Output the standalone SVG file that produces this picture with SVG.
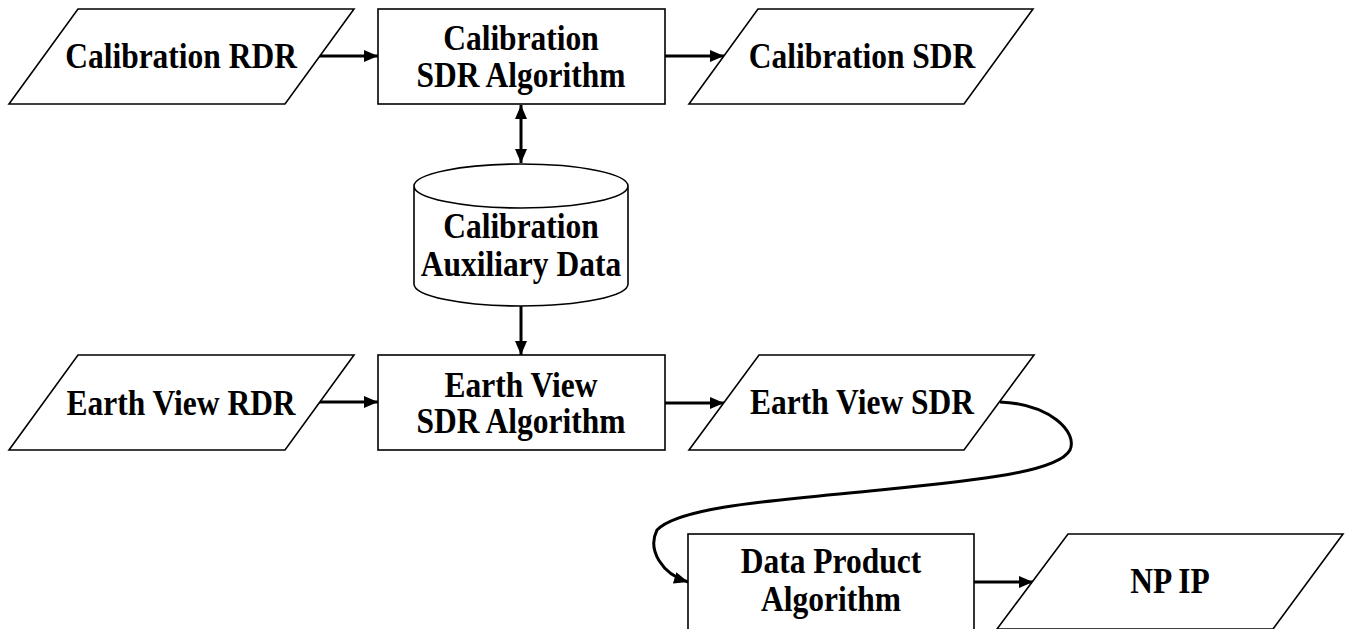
<svg xmlns="http://www.w3.org/2000/svg" width="1346" height="629" viewBox="0 0 1346 629">
<style>
.shape{fill:#fff;stroke:#000;stroke-width:1.6}
.lbl{font-family:"Liberation Serif","Times New Roman",serif;font-weight:bold;font-size:35px;fill:#000;text-anchor:middle;transform-box:fill-box;transform-origin:center;transform:scaleX(0.9)}
.conn{fill:none;stroke:#000;stroke-width:3}
</style>
<defs>
<marker id="ah" viewBox="0 0 14 12" refX="14" refY="6" markerWidth="14" markerHeight="12" markerUnits="userSpaceOnUse" orient="auto-start-reverse">
<path d="M0,0 L14,6 L0,12 z" fill="#000"/>
</marker>
</defs>
<rect width="1346" height="629" fill="#fff"/>
<g id="connectors">
<line class="conn" x1="318" y1="56" x2="378" y2="56" marker-end="url(#ah)"/>
<line class="conn" x1="665" y1="56" x2="724" y2="56" marker-end="url(#ah)"/>
<line class="conn" x1="521" y1="105" x2="521" y2="163" marker-start="url(#ah)" marker-end="url(#ah)"/>
<line class="conn" x1="521" y1="306" x2="521" y2="355" marker-end="url(#ah)"/>
<line class="conn" x1="318" y1="402" x2="378" y2="402" marker-end="url(#ah)"/>
<line class="conn" x1="665" y1="403" x2="724" y2="403" marker-end="url(#ah)"/>
<path class="conn" d="M1000,402 C1050,404 1078,432 1070,450 C1058,472 980,480 880,490 C780,500 680,506 657,530 C647,550 662,574 688,582" marker-end="url(#ah)"/>
<line class="conn" x1="974" y1="582" x2="1033" y2="582" marker-end="url(#ah)"/>
</g>
<g id="cal-rdr">
<polygon class="shape" points="78,9 354,9 285,104 9,104"/>
<text class="lbl" x="181" y="68">Calibration RDR</text>
</g>
<g id="cal-sdr-alg">
<rect class="shape" x="378" y="9" width="287" height="95"/>
<text class="lbl" x="521" y="50">Calibration</text>
<text class="lbl" x="521" y="87">SDR Algorithm</text>
</g>
<g id="cal-sdr">
<polygon class="shape" points="758,9 1033,9 964,104 689,104"/>
<text class="lbl" x="862" y="68">Calibration SDR</text>
</g>
<g id="cal-aux">
<path class="shape" d="M414,186 L414,284 A107,22 0 0 0 628,284 L628,186 A107,22 0 0 0 414,186 A107,22 0 0 0 628,186"/>
<text class="lbl" x="521" y="238">Calibration</text>
<text class="lbl" x="521" y="276">Auxiliary Data</text>
</g>
<g id="ev-rdr">
<polygon class="shape" points="78,355 354,355 285,450 9,450"/>
<text class="lbl" x="181" y="415">Earth View RDR</text>
</g>
<g id="ev-sdr-alg">
<rect class="shape" x="378" y="355" width="287" height="95"/>
<text class="lbl" x="521" y="397">Earth View</text>
<text class="lbl" x="521" y="433">SDR Algorithm</text>
</g>
<g id="ev-sdr">
<polygon class="shape" points="759,355 1034,355 964,450 689,450"/>
<text class="lbl" x="862" y="414">Earth View SDR</text>
</g>
<g id="dp-alg">
<rect class="shape" x="688" y="534" width="286" height="120"/>
<text class="lbl" x="831" y="573">Data Product</text>
<text class="lbl" x="831" y="611">Algorithm</text>
</g>
<g id="np-ip">
<polygon class="shape" points="1068,534 1343,534 1273,629 997,629"/>
<text class="lbl" x="1170" y="593">NP IP</text>
</g>
</svg>
